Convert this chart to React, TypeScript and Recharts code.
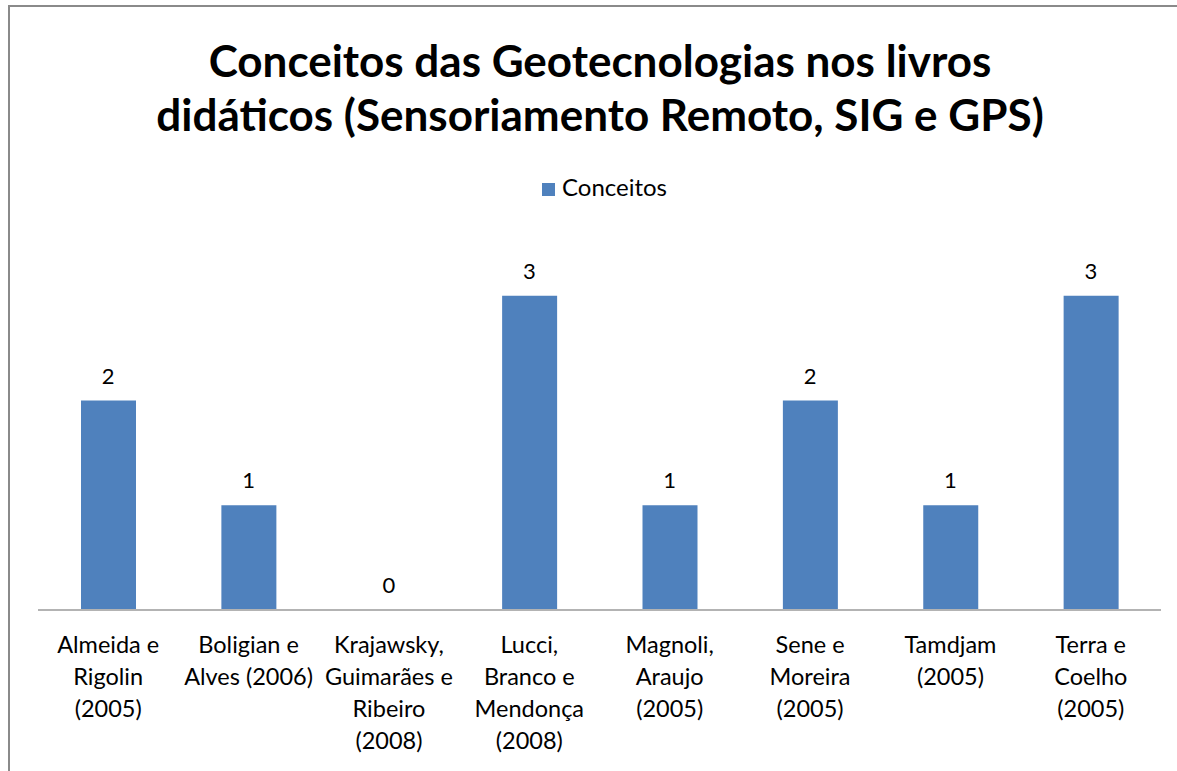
import { BarChart, Bar, Line, XAxis, YAxis, Legend, LabelList } from "recharts";

const categories = [
  "Almeida e Rigolin (2005)",
  "Boligian e Alves (2006)",
  "Krajawsky, Guimarães e Ribeiro (2008)",
  "Lucci, Branco e Mendonça (2008)",
  "Magnoli, Araujo (2005)",
  "Sene e Moreira (2005)",
  "Tamdjam (2005)",
  "Terra e Coelho (2005)",
];

const conceitos = [2, 1, 0, 3, 1, 2, 1, 3];

const tickLines = [
  ["Almeida e", "Rigolin", "(2005)"],
  ["Boligian e", "Alves (2006)"],
  ["Krajawsky,", "Guimarães e", "Ribeiro", "(2008)"],
  ["Lucci,", "Branco e", "Mendonça", "(2008)"],
  ["Magnoli,", "Araujo", "(2005)"],
  ["Sene e", "Moreira", "(2005)"],
  ["Tamdjam", "(2005)"],
  ["Terra e", "Coelho", "(2005)"],
];

const titleLines = [
  "Conceitos das Geotecnologias nos livros",
  "didáticos (Sensoriamento Remoto, SIG e GPS)",
];

const data = categories.map((name, i) => ({ name, Conceitos: conceitos[i] }));

const FONT = "Lato, 'Open Sans', sans-serif";

function CategoryTick({ x, y, payload }: any) {
  const lines = tickLines[payload.index] || [payload.value];
  return (
    <text x={x} y={y} textAnchor="middle" fill="#000" fontSize={23.5} fontFamily={FONT}>
      {lines.map((l, i) => (
        <tspan key={i} x={x} dy={i === 0 ? 35 : 32}>
          {l}
        </tspan>
      ))}
    </text>
  );
}

// value labels hang off an invisible line so the zero bar gets its "0" too
function ValueLabel({ x, y, width, value }: any) {
  return (
    <text
      x={Number(x) + (Number(width) || 0) / 2}
      y={Number(y) - 17}
      textAnchor="middle"
      fill="#000"
      fontSize={22}
      fontFamily={FONT}
    >
      {value}
    </text>
  );
}

export default function App() {
  return (
    <div
      style={{
        position: "absolute",
        left: 0,
        top: 0,
        width: 1177,
        height: 771,
        background: "#fff",
        overflow: "hidden",
      }}
    >
      <div
        style={{
          position: "absolute",
          left: 8,
          top: 5,
          width: 1200,
          height: 800,
          borderLeft: "2px solid #8a8a8a",
          borderTop: "2px solid #8a8a8a",
        }}
      />
      <div
        style={{
          position: "absolute",
          left: 0,
          top: 33,
          width: 1200,
          textAlign: "center",
          fontFamily: FONT,
          fontWeight: 700,
          fontSize: 44,
          lineHeight: "54px",
          color: "#000",
        }}
      >
        {titleLines.map((t) => (
          <div key={t}>{t}</div>
        ))}
      </div>
      <div style={{ position: "absolute", left: 0, top: 0 }}>
        <BarChart
          width={1177}
          height={771}
          data={data}
          margin={{ top: 214.5, right: 16, bottom: 0, left: 38 }}
        >
          <XAxis
            dataKey="name"
            height={161}
            interval={0}
            tickLine={false}
            axisLine={{ stroke: "#b3b3b3", strokeWidth: 2 }}
            tick={<CategoryTick />}
          />
          <YAxis hide domain={[0, 3.5]} />
          <Legend
            verticalAlign="top"
            iconType="square"
            iconSize={13}
            wrapperStyle={{
              top: 172,
              left: 0,
              width: 1219,
              fontFamily: FONT,
              fontSize: 24,
              color: "#000",
            }}
            formatter={(v) => <span style={{ color: "#000", marginLeft: 3 }}>{v}</span>}
          />
          <Bar dataKey="Conceitos" fill="#4f81bd" barSize={55} isAnimationActive={false} />
          <Line
            dataKey="Conceitos"
            stroke="none"
            dot={false}
            activeDot={false}
            legendType="none"
            isAnimationActive={false}
          >
            <LabelList dataKey="Conceitos" content={<ValueLabel />} />
          </Line>
        </BarChart>
      </div>
    </div>
  );
}
